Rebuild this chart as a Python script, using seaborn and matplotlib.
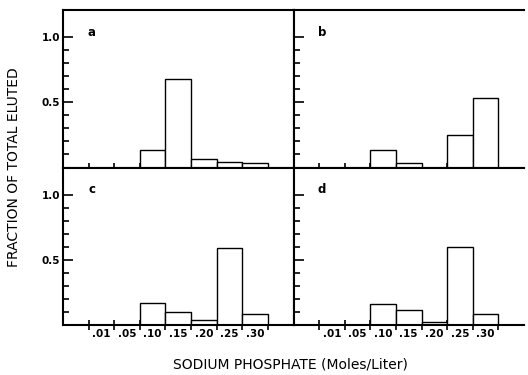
import matplotlib
matplotlib.use("Agg")
import matplotlib.pyplot as plt
import seaborn as sns
import numpy as np
import pandas as pd
from matplotlib.ticker import FixedLocator

sns.set_style("white")
plt.rcParams['font.family'] = ['DejaVu Sans']
plt.rcParams['text.color'] = 'black'
plt.rcParams['xtick.color'] = 'black'
plt.rcParams['ytick.color'] = 'black'
plt.rcParams['axes.labelcolor'] = 'black'

categories = ['.01', '.05', '.10', '.15', '.20', '.25', '.30']
panel_a = [0, 0, 0.135, 0.68, 0.065, 0.043, 0.033]
panel_b = [0, 0, 0.133, 0.033, 0, 0.246, 0.533]
panel_c = [0, 0, 0.167, 0.10, 0.036, 0.595, 0.085]
panel_d = [0, 0, 0.159, 0.113, 0.02, 0.598, 0.087]
panel_letters = ['a', 'b', 'c', 'd']
ytick_values = [0.5, 1.0]
ytick_labels = ['0.5', '1.0']
xlabel = 'SODIUM PHOSPHATE (Moles/Liter)'
ylabel = 'FRACTION OF TOTAL ELUTED'

fig = plt.figure(figsize=(5.28, 3.75), dpi=100)
L, R, B, T = 63/528, 524/528, 1 - 325/375, 1 - 10/375
W = (R - L) / 2
H = (T - B) / 2
positions = [(L, B + H), (L + W, B + H), (L, B), (L + W, B)]
data = [panel_a, panel_b, panel_c, panel_d]

for i, (pos, vals, letter) in enumerate(zip(positions, data, panel_letters)):
    ax = fig.add_axes([pos[0], pos[1], W, H])
    df = pd.DataFrame({'cat': categories, 'val': vals})
    sns.barplot(data=df, x='cat', y='val', order=categories, color='white',
                edgecolor='black', linewidth=1.0, width=1.0, saturation=1,
                ax=ax)
    ax.set_xlabel('')
    ax.set_ylabel('')
    ax.set_xlim(-1.5, 7.5)
    ax.set_ylim(0, 1.21)
    for s in ax.spines.values():
        s.set_linewidth(1.5)
        s.set_color('black')
    left_col = (i % 2 == 0)
    bottom_row = (i >= 2)
    if not left_col:
        ax.spines['right'].set_visible(False)
    ax.xaxis.set_major_locator(FixedLocator(np.arange(len(categories))))
    ax.xaxis.set_minor_locator(FixedLocator(np.arange(len(categories) + 1) - 0.5))
    ax.tick_params(axis='x', which='major', length=0, pad=3)
    ax.tick_params(axis='x', which='minor', direction='inout', length=7,
                   width=1.2, bottom=True)
    if bottom_row:
        ax.set_xticklabels(categories, fontsize=7.5, fontweight='bold')
    else:
        ax.set_xticklabels([])
    ax.yaxis.set_major_locator(FixedLocator(ytick_values))
    ax.yaxis.set_minor_locator(FixedLocator(np.round(np.arange(0.1, 1.01, 0.1), 2)))
    ax.tick_params(axis='y', which='major', direction='in', length=7, width=1.2,
                   left=True, pad=2)
    ax.tick_params(axis='y', which='minor', direction='in', length=4, width=1.2,
                   left=True)
    if left_col:
        ax.set_yticklabels(ytick_labels, fontsize=7.5, fontweight='bold')
    else:
        ax.set_yticklabels([])
    ax.text(-0.38, 1.04, letter, fontsize=8.5, fontweight='bold',
            ha='center', va='center', color='black')

fig.text((L + R) / 2 - 0.005, 1 - 365/375, xlabel, ha='center', va='center',
         fontsize=10, color='black')
fig.text(14/528, (B + T) / 2, ylabel, ha='center', va='center',
         rotation=90, fontsize=10, color='black')

fig.savefig('out.png', dpi=100)
